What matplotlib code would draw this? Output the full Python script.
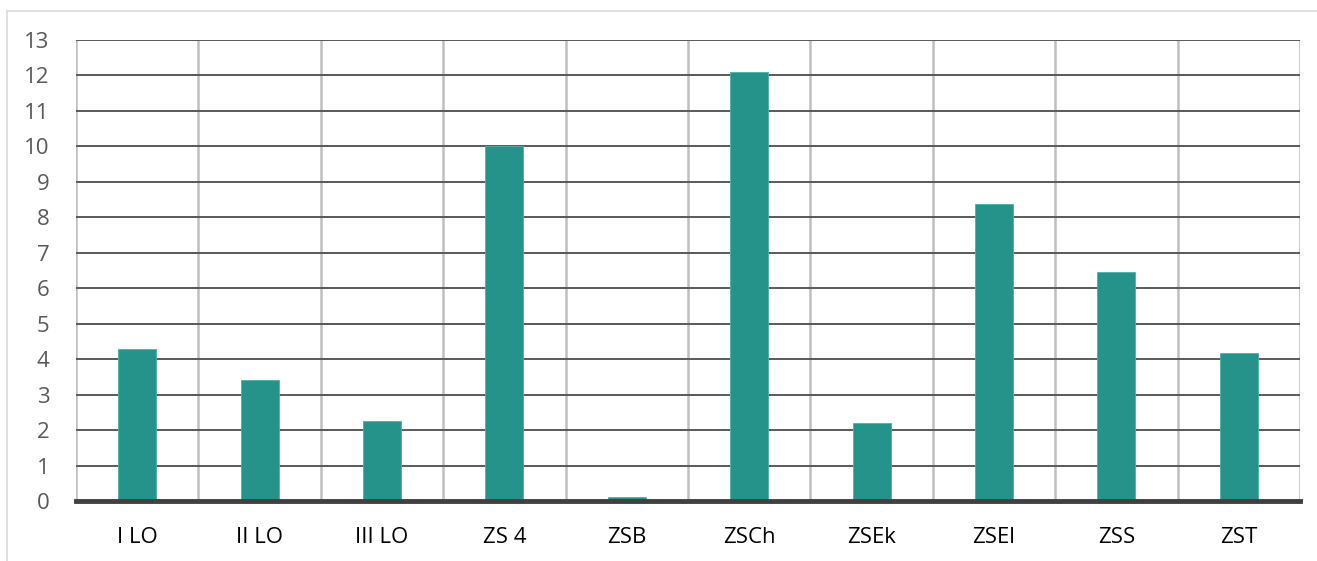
import matplotlib
matplotlib.use("Agg")
import matplotlib.pyplot as plt
from matplotlib.patches import Rectangle

categories = ["I LO", "II LO", "III LO", "ZS 4", "ZSB", "ZSCh", "ZSEk", "ZSEl", "ZSS", "ZST"]
values = [4.3, 3.42, 2.25, 10.0, 0.1, 12.1, 2.2, 8.38, 6.45, 4.18]
yticks = list(range(0, 14))

plt.rcParams['font.family'] = ['Open Sans', 'DejaVu Sans']

W, H = 1317, 561
fig = plt.figure(figsize=(W/100, H/100), dpi=100)
fig.patch.set_facecolor('white')
fig.add_artist(Rectangle((7/W, -0.01), 1.0, 1 - 11/H + 0.01, transform=fig.transFigure,
                         fill=False, edgecolor='#D9D9D9', linewidth=1.2))

ax = fig.add_axes([76/W, 1 - 501/H, (1300-76)/W, (501-40)/H])
x = list(range(len(categories)))
ax.bar(x, values, width=0.31, color='#26938B', edgecolor='#4FB0A8', linewidth=0.6, zorder=3)

ax.set_xlim(-0.5, len(categories) - 0.5)
ax.set_ylim(0, 13)
ax.set_yticks(yticks)
ax.set_yticklabels([str(v) for v in yticks], color='#595959', fontsize=16)
ax.set_xticks(x)
ax.set_xticklabels(categories, fontsize=16, color='#000000')
ax.tick_params(axis='both', length=0)
ax.tick_params(axis='y', pad=19)
ax.tick_params(axis='x', pad=19)

for yv in yticks[1:]:
    ax.axhline(yv, color='#595959', linewidth=1.4, zorder=1)
for xv in [i - 0.5 for i in range(len(categories) + 1)]:
    ax.axvline(xv, color='#BFBFBF', linewidth=1.8, zorder=0.5)

for s in ax.spines.values():
    s.set_visible(False)
ax.axhline(0, color='#404040', linewidth=3.5, zorder=4, clip_on=False)

fig.savefig('out.png', dpi=100)
